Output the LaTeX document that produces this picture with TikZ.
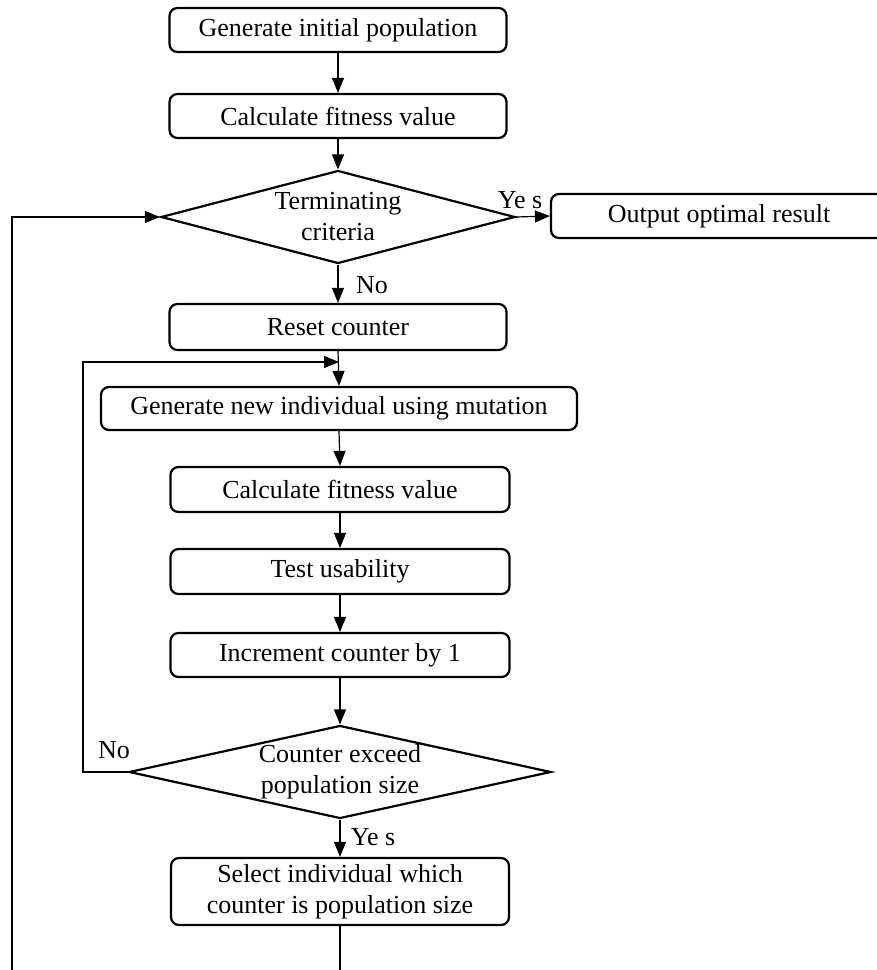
\documentclass[tikz,border=0pt]{standalone}
\usepackage{fontspec}
\setmainfont{Liberation Serif}
\usetikzlibrary{shapes.geometric,arrows.meta}
\begin{document}
\begin{tikzpicture}[x=1pt,y=-1pt,
  font=\fontsize{26}{31}\selectfont,
  stepbox/.style={draw,rounded corners=8pt,line width=2.2pt,minimum height=44pt,inner sep=0pt,align=center},
  decision/.style={draw,diamond,line width=2.2pt,inner sep=0pt,align=center},
  flow/.style={line width=1.2pt,-{Triangle[length=15pt,width=12pt]}},
  plain/.style={line width=1.2pt},
  lbl/.style={inner sep=0pt}]
\clip (0,0) rectangle (877,970);

% main column
\node[stepbox,minimum width=337pt] (init) at (338,30) {Generate initial population};
\node[stepbox,minimum width=337pt] (fit1) at (338,116) {Calculate fitness value};
\node[decision,minimum width=354pt,minimum height=93pt,aspect=3.8] (term) at (338,217) {Terminating\\criteria};
\node[stepbox,minimum width=336pt] (out) at (719,216) {Output optimal result};
\node[stepbox,minimum width=337pt,minimum height=46pt] (reset) at (338,327) {Reset counter};
\coordinate (join) at (339,362);
\node[stepbox,minimum width=476pt,minimum height=43pt] (mut) at (339,408.5) {Generate new individual using mutation};
\node[stepbox,minimum width=339pt,minimum height=45pt] (fit2) at (340,489.5) {Calculate fitness value};
\node[stepbox,minimum width=339pt,minimum height=45pt] (test) at (340,571.5) {Test usability};
\node[stepbox,minimum width=339pt] (inc) at (340,655) {Increment counter by 1};
\node[decision,minimum width=422pt,minimum height=93pt,aspect=4.5] (exceed) at (340,772) {Counter exceed\\population size};
\node[stepbox,minimum width=338pt,minimum height=67pt] (sel) at (340,891.5) {Select individual which\\counter is population size};

% loose ends leaving the bottom edge
\coordinate (selEnd) at (340,975);
\coordinate (backBottom) at (12,975);
\coordinate (backTop) at (12,217);
\coordinate (loopL) at (83,772);
\coordinate (loopT) at (83,362);

% connectors
\draw[flow] (init) -- (fit1);
\draw[flow] (fit1) -- (term);
\draw[flow] (term.east) -- (out.west);
\draw[flow] (term.south) -- (reset.north);
\draw[flow] (reset.south) -- (mut.north);
\draw[flow] (mut.south) -- (fit2.north);
\draw[flow] (fit2) -- (test);
\draw[flow] (test) -- (inc);
\draw[flow] (inc.south) -- (exceed.north);
\draw[flow] (exceed.south) -- (sel.north);
\draw[plain] (sel.south) -- (selEnd);
\draw[flow] (exceed.west) -- (loopL) -- (loopT) -- (join);
\draw[flow] (backBottom) -- (backTop) -- (term.west);

% branch labels
\node[lbl] (yes1) at (520,200) {Ye s};
\node[lbl] (no1) at (372,285) {No};
\node[lbl] (no2) at (114,750) {No};
\node[lbl] (yes2) at (373,837) {Ye s};
\end{tikzpicture}
\end{document}
